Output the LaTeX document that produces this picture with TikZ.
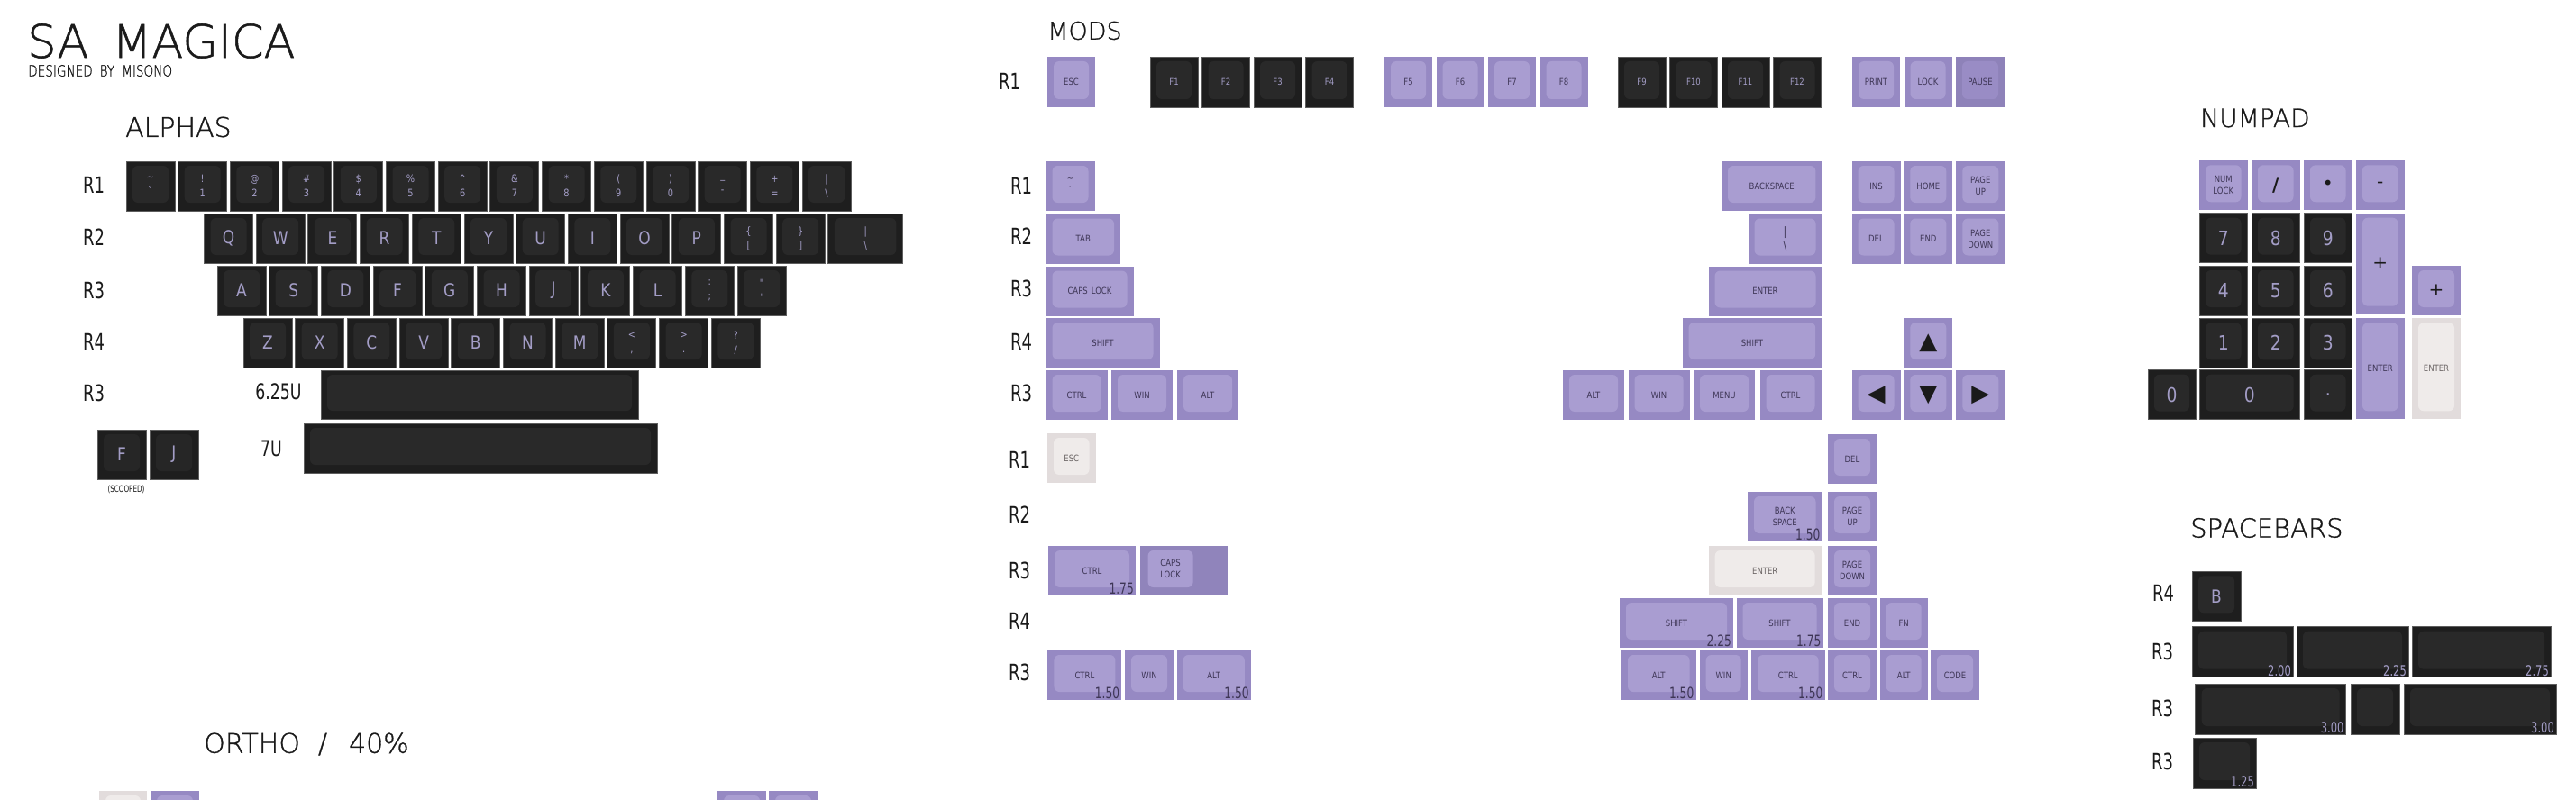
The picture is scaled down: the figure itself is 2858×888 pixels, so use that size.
\documentclass[tikz,border=0pt]{standalone}
\usepackage{fontspec}
\setmainfont{DejaVu Sans}
\newfontfamily\thinf[FakeBold=1]{DejaVuSans-ExtraLight.ttf}
\newfontfamily\thinc[FakeStretch=0.8,FakeBold=1]{DejaVuSans-ExtraLight.ttf}
\newfontfamily\cnd[FakeStretch=0.85]{DejaVu Sans}
\newfontfamily\ccnd[FakeStretch=0.72]{DejaVu Sans}
\definecolor{dkout}{HTML}{1E1E1E}
\definecolor{dkin}{HTML}{292929}
\definecolor{dkline}{HTML}{5E5E5E}
\definecolor{dklab}{HTML}{A39DC6}
\definecolor{pkout}{HTML}{9689C3}
\definecolor{pkin}{HTML}{A99DD1}
\definecolor{pklab}{HTML}{3E3656}
\definecolor{lkout}{HTML}{E2DCDC}
\definecolor{lkin}{HTML}{EFEBEA}
\definecolor{lklab}{HTML}{6A6464}
\definecolor{ink}{HTML}{1A1A1A}
\tikzset{
  keybase/.style={anchor=north west, inner sep=0pt, outer sep=0pt, rectangle,
    minimum height=55, align=center},
  topface/.style={path picture={\fill[#1, rounded corners=6pt]
      ([xshift=7pt,yshift=9pt]path picture bounding box.south west) rectangle
      ([xshift=-7pt,yshift=-5pt]path picture bounding box.north east);}},
  dk/.style={keybase, fill=dkout, draw=dkline, line width=0.9pt, text=dklab, topface=dkin,
    font=\cnd\fontsize{20}{20}\selectfont},
  pk/.style={keybase, fill=pkout, text=pklab, topface=pkin,
    font=\cnd\fontsize{11}{13}\selectfont},
  lk/.style={keybase, fill=lkout, text=lklab, topface=lkin,
    font=\cnd\fontsize{11}{13}\selectfont},
  pkstep/.style={keybase, fill=pkout!96!black, text=pklab,
    path picture={\fill[pkin, rounded corners=6pt]
      ([xshift=9pt,yshift=9pt]path picture bounding box.south west) rectangle
      ([xshift=-38pt,yshift=-5pt]path picture bounding box.north east);}},
  two/.style={font=\cnd\fontsize{11.5}{16}\selectfont},
  sm/.style={font=\cnd\fontsize{10}{13}\selectfont},
  num/.style={font=\cnd\fontsize{22}{22}\selectfont},
  sym/.style={font=\fontsize{20}{20}\selectfont, text=ink},
  arr/.style={font=\fontsize{26}{26}\selectfont, text=ink},
  tall/.style={minimum height=112},
  txt/.style={inner sep=0pt, outer sep=0pt, text=pklab, align=center},
  head/.style={anchor=west, inner sep=0pt, text=ink},
  rl/.style={inner sep=0pt, text=ink, font=\ccnd\fontsize{25}{25}\selectfont},
  szd/.style={anchor=south east, inner sep=0pt, text=pklab, font=\ccnd\fontsize{17}{17}\selectfont},
  szl/.style={anchor=south east, inner sep=0pt, text=dklab, font=\ccnd\fontsize{16}{16}\selectfont},
}
\newcommand\K[6]{\node[#1,minimum width=#5] (#2) at (#3,#4) {#6};}
\begin{document}
\begin{tikzpicture}[x=1pt,y=-1pt]
\useasboundingbox (0,0) rectangle (2858,888);
\fill[white] (0,0) rectangle (2858,888);

% ---------- titles ----------
\node[head, font=\thinf\fontsize{51}{51}\selectfont] (title) at (30,45.5) {SA\hspace{26pt}MAGICA};
\node[head, font=\thinc\fontsize{17}{17}\selectfont] (designer) at (31,78.5) {DESIGNED\hspace{8pt}BY\hspace{8pt}MISONO};
\node[head, font=\thinf\fontsize{30}{30}\selectfont] (alphas) at (139,141) {ALPHAS};
\node[head, font=\thinf\fontsize{27}{27}\selectfont] (mods) at (1162,34) {MODS};
\node[head, font=\thinf\fontsize{28}{28}\selectfont] (numpad) at (2441,131) {NUMPAD};
\node[head, font=\thinf\fontsize{29}{29}\selectfont] (spacebars) at (2430,586) {SPACEBARS};
\node[head, font=\thinf\fontsize{30}{30}\selectfont] (ortho) at (226,826) {ORTHO\hspace{20pt}/\hspace{24pt}40\%};

% ---------- alphas ----------
\node[rl] (alR1) at (104,205) {R1};
\node[rl] (alR2) at (104,263) {R2};
\node[rl] (alR3) at (104,322) {R3};
\node[rl] (alR4) at (104,379) {R4};
\node[rl] (alR3b) at (104,436) {R3};
\node[rl, font=\ccnd\fontsize{24}{24}\selectfont] (l625) at (309,435) {6.25U};
\node[rl, font=\ccnd\fontsize{24}{24}\selectfont] (l7u) at (301,498) {7U};

\K{dk,two}{a1}{140}{179}{54}{\textasciitilde\\\textasciigrave}
\K{dk,two}{a2}{197.7}{179}{54}{!\\1}
\K{dk,two}{a3}{255.4}{179}{54}{@\\2}
\K{dk,two}{a4}{313.1}{179}{54}{\#\\3}
\K{dk,two}{a5}{370.8}{179}{54}{\$\\4}
\K{dk,two}{a6}{428.5}{179}{54}{\%\\5}
\K{dk,two}{a7}{486.2}{179}{54}{\textasciicircum\\6}
\K{dk,two}{a8}{543.9}{179}{54}{\&\\7}
\K{dk,two}{a9}{601.6}{179}{54}{*\\8}
\K{dk,two}{a10}{659.3}{179}{54}{(\\9}
\K{dk,two}{a11}{717}{179}{54}{)\\0}
\K{dk,two}{a12}{774.7}{179}{54}{\_\\-}
\K{dk,two}{a13}{832.4}{179}{54}{+\\=}
\K{dk,two}{a14}{890.1}{179}{54}{|\\\textbackslash}

\K{dk}{q}{226.5}{237}{54}{Q}
\K{dk}{w}{284.2}{237}{54}{W}
\K{dk}{e}{341.9}{237}{54}{E}
\K{dk}{r}{399.6}{237}{54}{R}
\K{dk}{t}{457.3}{237}{54}{T}
\K{dk}{y}{515}{237}{54}{Y}
\K{dk}{u}{572.7}{237}{54}{U}
\K{dk}{i}{630.4}{237}{54}{I}
\K{dk}{o}{688.1}{237}{54}{O}
\K{dk}{p}{745.8}{237}{54}{P}
\K{dk,two}{lbr}{803.5}{237}{54}{\{\\{[}}
\K{dk,two}{rbr}{861.2}{237}{54}{\}\\{]}}
\K{dk,two}{bsl}{918.9}{237}{82.5}{|\\\textbackslash}

\K{dk}{ka}{241}{295}{54}{A}
\K{dk}{ks}{298.7}{295}{54}{S}
\K{dk}{kd}{356.4}{295}{54}{D}
\K{dk}{kf}{414.1}{295}{54}{F}
\K{dk}{kg}{471.8}{295}{54}{G}
\K{dk}{kh}{529.5}{295}{54}{H}
\K{dk}{kj}{587.2}{295}{54}{J}
\K{dk}{kk}{644.9}{295}{54}{K}
\K{dk}{kl}{702.6}{295}{54}{L}
\K{dk,two}{semi}{760.3}{295}{54}{:\\;}
\K{dk,two}{quot}{818}{295}{54}{"\\'}

\K{dk}{kz}{270}{353}{54}{Z}
\K{dk}{kx}{327.7}{353}{54}{X}
\K{dk}{kc}{385.4}{353}{54}{C}
\K{dk}{kv}{443.1}{353}{54}{V}
\K{dk}{kb}{500.8}{353}{54}{B}
\K{dk}{kn}{558.5}{353}{54}{N}
\K{dk}{km}{616.2}{353}{54}{M}
\K{dk,two}{comma}{673.9}{353}{54}{<\\,}
\K{dk,two}{period}{731.6}{353}{54}{>\\.}
\K{dk,two}{slash}{789.3}{353}{54}{?\\/}

\K{dk,minimum height=54}{sp625}{356}{411}{352}{}
\K{dk}{sp7}{337}{470}{392}{}

\K{dk,topface=dkin!70!dkout}{scf}{108}{477}{54}{F}
\K{dk,topface=dkin!70!dkout}{scj}{166}{477}{54}{J}
\node[inner sep=0pt, text=ink, font=\ccnd\fontsize{10}{10}\selectfont] (scooped) at (140,543) {(SCOOPED)};

% ---------- mods, function row ----------
\node[rl] (mR1) at (1120,90) {R1};
\K{pk,sm,minimum height=56}{fesc}{1162}{63}{53}{ESC}
\K{dk,sm,minimum height=56}{f1}{1276}{63}{53}{F1}
\K{dk,sm,minimum height=56}{f2}{1333.5}{63}{53}{F2}
\K{dk,sm,minimum height=56}{f3}{1391}{63}{53}{F3}
\K{dk,sm,minimum height=56}{f4}{1448.5}{63}{53}{F4}
\K{pk,sm,minimum height=56}{f5}{1536}{63}{53}{F5}
\K{pk,sm,minimum height=56}{f6}{1593.5}{63}{53}{F6}
\K{pk,sm,minimum height=56}{f7}{1651}{63}{53}{F7}
\K{pk,sm,minimum height=56}{f8}{1708.5}{63}{53}{F8}
\K{dk,sm,minimum height=56}{f9}{1795}{63}{53}{F9}
\K{dk,sm,minimum height=56}{f10}{1852.5}{63}{53}{F10}
\K{dk,sm,minimum height=56}{f11}{1910}{63}{53}{F11}
\K{dk,sm,minimum height=56}{f12}{1967.5}{63}{53}{F12}
\K{pk,sm,minimum height=56}{prt}{2055}{63}{53}{PRINT}
\K{pk,sm,minimum height=56}{lck}{2112.5}{63}{53}{LOCK}
\K{pk,sm,minimum height=56,topface=pkout!85!pkin,fill=pkout!95!black}{pause}{2170}{63}{54}{PAUSE}

% ---------- mods, upper block ----------
\node[rl] (mR1b) at (1133,206) {R1};
\node[rl] (mR2b) at (1133,262) {R2};
\node[rl] (mR3b) at (1133,320) {R3};
\node[rl] (mR4b) at (1133,379) {R4};
\node[rl] (mR3c) at (1133,436) {R3};
\K{pk,sm}{grave}{1160.5}{179}{54}{\textasciitilde\\\textasciigrave}
\K{pk,sm}{tab}{1160.5}{237.5}{82.5}{TAB}
\K{pk,sm}{caps}{1160.5}{295.5}{97}{CAPS\hspace{4pt}LOCK}
\K{pk,sm}{lshift}{1160.5}{353}{126}{SHIFT}
\K{pk,sm}{lctrl}{1160.5}{411}{68}{CTRL}
\K{pk,sm}{lwin}{1233}{411}{68}{WIN}
\K{pk,sm}{lalt}{1306}{411}{68}{ALT}

\K{pk,sm}{bksp}{1910}{179}{111.4}{BACKSPACE}
\K{pk,sm,font=\cnd\fontsize{13}{16}\selectfont}{pipe}{1939.5}{237.5}{82}{|\\\textbackslash}
\K{pk,sm}{enter}{1895.5}{295.5}{126}{ENTER}
\K{pk,sm}{rshift}{1866.5}{353}{154.7}{SHIFT}
\K{pk,sm}{ralt}{1734}{411}{68}{ALT}
\K{pk,sm}{rwin}{1806.5}{411}{68}{WIN}
\K{pk,sm}{menu}{1879}{411}{68}{MENU}
\K{pk,sm}{rctrl}{1952.5}{411}{68}{CTRL}

\K{pk,sm}{ins}{2054.5}{179}{54}{INS}
\K{pk,sm}{home}{2112.3}{179}{54}{HOME}
\K{pk,sm}{pgup}{2170.3}{179}{54}{PAGE\\UP}
\K{pk,sm}{del}{2054.5}{237.5}{54}{DEL}
\K{pk,sm}{end}{2112.3}{237.5}{54}{END}
\K{pk,sm}{pgdn}{2170.3}{237.5}{54}{PAGE\\DOWN}
\K{pk,arr}{up}{2112.3}{353}{54}{▲}
\K{pk,arr}{left}{2054.5}{411}{54}{◀}
\K{pk,arr}{down}{2112.3}{411}{54}{▼}
\K{pk,arr}{right}{2170.3}{411}{54}{▶}

% ---------- mods, lower block ----------
\node[rl] (nR1) at (1131,510) {R1};
\node[rl] (nR2) at (1131,571) {R2};
\node[rl] (nR3) at (1131,633) {R3};
\node[rl] (nR4) at (1131,689) {R4};
\node[rl] (nR3b) at (1131,746) {R3};
\K{lk,sm}{esc2}{1162}{481}{53.5}{ESC}
\K{pk,sm}{ctrl175}{1163}{606}{97}{CTRL}
\node[szd] (ctrl175s) at ([xshift=-2pt,yshift=1pt]ctrl175.south east) {1.75};
\K{pkstep}{capsB}{1264.6}{606}{97}{}
\node[txt, sm] (capsBt) at ([xshift=-14.5pt,yshift=2pt]capsB.center) {CAPS\\LOCK};
\K{pk,sm}{ctrl150a}{1162.4}{722}{82}{CTRL}
\node[szd] (ctrl150as) at ([xshift=-2pt,yshift=1pt]ctrl150a.south east) {1.50};
\K{pk,sm}{win2}{1248}{722}{54}{WIN}
\K{pk,sm}{alt150a}{1305.5}{722}{82.3}{ALT}
\node[szd] (alt150as) at ([xshift=-2pt,yshift=1pt]alt150a.south east) {1.50};

\K{pk,sm}{del2}{2028}{482}{54}{DEL}
\K{pk,sm}{bksp2}{1939}{546}{82.5}{BACK\\SPACE}
\node[szd] (bksp2s) at ([xshift=-2pt,yshift=1pt]bksp2.south east) {1.50};
\K{pk,sm}{pgup2}{2028}{546}{54}{PAGE\\UP}
\K{lk,sm}{enter2}{1895.7}{606}{125}{ENTER}
\K{pk,sm}{pgdn2}{2028}{606}{54}{PAGE\\DOWN}
\K{pk,sm}{shift225}{1797}{664}{126}{SHIFT}
\node[szd] (shift225s) at ([xshift=-2pt,yshift=1pt]shift225.south east) {2.25};
\K{pk,sm}{shift175}{1926.5}{664}{96}{SHIFT}
\node[szd] (shift175s) at ([xshift=-2pt,yshift=1pt]shift175.south east) {1.75};
\K{pk,sm}{end2}{2028}{664}{54}{END}
\K{pk,sm}{fn}{2085.7}{664}{53}{FN}
\K{pk,sm}{alt150b}{1799}{722}{82.5}{ALT}
\node[szd] (alt150bs) at ([xshift=-2pt,yshift=1pt]alt150b.south east) {1.50};
\K{pk,sm}{win3}{1885.7}{722}{53}{WIN}
\K{pk,sm}{ctrl150b}{1943}{722}{81.5}{CTRL}
\node[szd] (ctrl150bs) at ([xshift=-2pt,yshift=1pt]ctrl150b.south east) {1.50};
\K{pk,sm}{ctrl1}{2028}{722}{54}{CTRL}
\K{pk,sm}{alt1}{2085.7}{722}{53}{ALT}
\K{pk,sm}{code}{2142}{722}{54}{CODE}

% ---------- numpad ----------
\K{pk,sm}{numlock}{2440}{178.3}{53.5}{NUM\\LOCK}
\K{pk,sym}{pdiv}{2498}{178.3}{53.5}{\textbf{/}}
\K{pk,sym}{pmul}{2556}{178.3}{53.5}{•}
\K{pk,sym}{pmin}{2614}{178.3}{53.5}{-}
\K{dk,num}{p7}{2440}{236.7}{53.5}{7}
\K{dk,num}{p8}{2498}{236.7}{53.5}{8}
\K{dk,num}{p9}{2556}{236.7}{53.5}{9}
\K{pk,sym,tall}{pplus}{2614}{236.7}{53.5}{+}
\K{dk,num}{p4}{2440}{295}{53.5}{4}
\K{dk,num}{p5}{2498}{295}{53.5}{5}
\K{dk,num}{p6}{2556}{295}{53.5}{6}
\K{pk,sym}{pplus1}{2676}{295}{54}{+}
\K{dk,num}{p1}{2440}{353.3}{53.5}{1}
\K{dk,num}{p2}{2498}{353.3}{53.5}{2}
\K{dk,num}{p3}{2556}{353.3}{53.5}{3}
\K{pk,sm,tall}{penter}{2614}{353.3}{53.5}{ENTER}
\K{lk,sm,tall}{penter2}{2676}{353.3}{54}{ENTER}
\K{dk,num}{p0a}{2383}{410.7}{53}{0}
\K{dk,num}{p0b}{2440}{410.7}{111.7}{0}
\K{dk,num}{pdot}{2556}{410.7}{53.5}{.}

% ---------- spacebars ----------
\node[rl] (sR4) at (2400,658) {R4};
\node[rl] (sR3a) at (2399,723) {R3};
\node[rl] (sR3b) at (2399,786) {R3};
\node[rl] (sR3c) at (2399,845) {R3};
\K{dk}{sb}{2432}{634.3}{54}{B}
\K{dk,minimum height=56}{s200}{2432}{695.7}{112}{}
\node[szl] (s200t) at ([xshift=-2pt,yshift=1pt]s200.south east) {2.00};
\K{dk,minimum height=56}{s225}{2548}{695.7}{124}{}
\node[szl] (s225t) at ([xshift=-2pt,yshift=1pt]s225.south east) {2.25};
\K{dk,minimum height=56}{s275}{2676}{695.7}{154}{}
\node[szl] (s275t) at ([xshift=-2pt,yshift=1pt]s275.south east) {2.75};
\K{dk,minimum height=56}{s300a}{2435.7}{759}{167}{}
\node[szl] (s300at) at ([xshift=-2pt,yshift=1pt]s300a.south east) {3.00};
\K{dk,minimum height=56}{s100}{2608}{759}{54}{}
\K{dk,minimum height=56}{s300b}{2667}{759}{169}{}
\node[szl] (s300bt) at ([xshift=-2pt,yshift=1pt]s300b.south east) {3.00};
\K{dk,minimum height=56}{s125}{2433}{819}{70}{}
\node[szl] (s125t) at ([xshift=-2pt,yshift=1pt]s125.south east) {1.25};

% ---------- ortho (cut by page edge) ----------
\begin{scope}
\clip (0,0) rectangle (2858,888);
\K{lk}{o1}{110}{878}{53}{}
\K{pk}{o2}{167}{878}{54}{}
\K{pk}{o3}{796}{878}{54}{}
\K{pk}{o4}{853}{878}{54}{}
\end{scope}
\end{tikzpicture}
\end{document}
